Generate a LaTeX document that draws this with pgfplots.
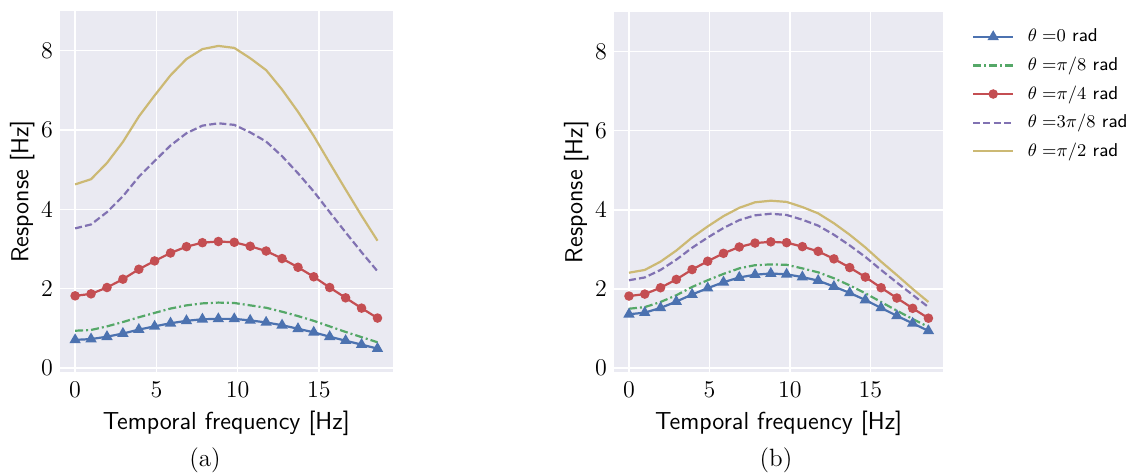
\documentclass[border=0pt]{standalone}
\usepackage{pgfplots}
\usepackage{pgfplotstable}
\pgfplotsset{compat=1.18}
\definecolor{sbblue}{HTML}{4C72B0}
\definecolor{sbgreen}{HTML}{55A868}
\definecolor{sbred}{HTML}{C44E52}
\definecolor{sbpurple}{HTML}{8172B2}
\definecolor{sbyellow}{HTML}{CCB974}
\definecolor{sbbg}{HTML}{EAEAF2}

\pgfplotstableread{
x      blue  green red  purple yellow
0.00   0.71  0.94  1.82 3.52   4.63
0.98   0.73  0.96  1.87 3.62   4.76
1.96   0.79  1.05  2.03 3.93   5.17
2.94   0.87  1.16  2.24 4.33   5.70
3.92   0.97  1.28  2.49 4.82   6.34
4.89   1.05  1.39  2.70 5.22   6.87
5.87   1.13  1.50  2.90 5.61   7.38
6.85   1.19  1.58  3.06 5.92   7.79
7.83   1.23  1.63  3.16 6.11   8.04
8.81   1.24  1.65  3.19 6.17   8.12
9.79   1.24  1.64  3.17 6.13   8.07
10.77  1.20  1.58  3.07 5.94   7.81
11.75  1.15  1.52  2.95 5.71   7.51
12.73  1.08  1.42  2.76 5.34   7.02
13.71  0.99  1.31  2.54 4.91   6.46
14.68  0.90  1.19  2.30 4.45   5.85
15.66  0.79  1.05  2.03 3.93   5.17
16.64  0.69  0.91  1.77 3.42   4.50
17.62  0.59  0.78  1.51 2.92   3.84
18.60  0.49  0.65  1.26 2.44   3.21
}\dataA

\pgfplotstableread{
x      blue  green red  purple yellow
0.00   1.36  1.50  1.82 2.22   2.41
0.98   1.40  1.54  1.87 2.29   2.48
1.96   1.52  1.67  2.03 2.48   2.69
2.94   1.68  1.84  2.24 2.74   2.97
3.92   1.86  2.05  2.49 3.04   3.30
4.89   2.02  2.22  2.70 3.30   3.58
5.87   2.17  2.38  2.90 3.54   3.84
6.85   2.29  2.52  3.06 3.74   4.05
7.83   2.36  2.60  3.16 3.86   4.19
8.81   2.39  2.62  3.19 3.90   4.23
9.79   2.37  2.61  3.17 3.87   4.20
10.77  2.30  2.52  3.07 3.75   4.07
11.75  2.21  2.42  2.95 3.60   3.91
12.73  2.06  2.27  2.76 3.37   3.66
13.71  1.90  2.09  2.54 3.10   3.37
14.68  1.72  1.89  2.30 2.81   3.05
15.66  1.52  1.67  2.03 2.48   2.69
16.64  1.32  1.45  1.77 2.16   2.35
17.62  1.13  1.24  1.51 1.85   2.00
18.60  0.94  1.04  1.26 1.54   1.67
}\dataB

\pgfplotsset{
  sbstyle/.style={
    scale only axis,
    axis background/.style={fill=sbbg},
    axis line style={draw=none},
    grid=major, major grid style={white, line width=0.7pt},
    major tick length=0pt,
    xmin=-0.93, xmax=19.53, ymin=-0.1, ymax=9,
    xtick={0,5,10,15}, ytick={0,2,4,6,8},
    tick label style={font=\fontsize{12}{14}\selectfont},
    xticklabel style={yshift=-1.5pt},
    label style={font=\sffamily\fontsize{12.3}{14}\selectfont},
    xlabel={Temporal frequency [Hz]}, ylabel={Response [Hz]},
    ylabel style={yshift=-3.5pt},
    every axis plot/.append style={line width=1.1pt},
  },
  sbblueS/.style={color=sbblue, mark=triangle*, mark size=2.2pt, mark options={solid}},
  sbgreenS/.style={color=sbgreen, dash pattern=on 4pt off 1.5pt on 1pt off 1.5pt},
  sbredS/.style={color=sbred, mark=*, mark size=1.8pt, mark options={solid}},
  sbpurpleS/.style={color=sbpurple, dash pattern=on 3.5pt off 1.6pt},
  sbyellowS/.style={color=sbyellow},
}

\begin{document}
\begin{tikzpicture}
\path[use as bounding box] (0,0) rectangle (564pt,-236pt);

\begin{axis}[sbstyle, at={(30pt,-186pt)}, anchor=south west, width=166.3pt, height=180.5pt]
\addplot[sbblueS] table[x=x,y=blue] {\dataA};
\addplot[sbgreenS] table[x=x,y=green] {\dataA};
\addplot[sbredS] table[x=x,y=red] {\dataA};
\addplot[sbpurpleS] table[x=x,y=purple] {\dataA};
\addplot[sbyellowS] table[x=x,y=yellow] {\dataA};
\end{axis}

\begin{axis}[sbstyle, at={(307pt,-186pt)}, anchor=south west, width=164.7pt, height=180pt,
  legend style={at={(1,1)}, anchor=north west, xshift=14.15pt, yshift=-6.7pt, draw=none, fill=none,
    inner sep=0pt, font=\sffamily\fontsize{9.3}{11}\selectfont, row sep=3.3pt, column sep=6.8pt,
    nodes={inner xsep=0pt, inner ysep=1pt, text height=7pt, text depth=2pt}},
  legend cell align=left,
  legend image code/.code={\draw[mark repeat=2,mark phase=2,#1] plot coordinates {(0pt,0pt)(10pt,0pt)(20pt,0pt)};},
]
\addplot[sbblueS] table[x=x,y=blue] {\dataB};
\addlegendentry{$\theta\;{=}0$ rad}
\addplot[sbgreenS] table[x=x,y=green] {\dataB};
\addlegendentry{$\theta\;{=}\pi/8$ rad}
\addplot[sbredS] table[x=x,y=red] {\dataB};
\addlegendentry{$\theta\;{=}\pi/4$ rad}
\addplot[sbpurpleS] table[x=x,y=purple] {\dataB};
\addlegendentry{$\theta\;{=}3\pi/8$ rad}
\addplot[sbyellowS] table[x=x,y=yellow] {\dataB};
\addlegendentry{$\theta\;{=}\pi/2$ rad}
\end{axis}

\node[font=\fontsize{12.5}{14}\selectfont] at (102.5pt,-230pt) {(a)};
\node[font=\fontsize{12.5}{14}\selectfont] at (388pt,-230pt) {(b)};
\end{tikzpicture}
\end{document}
